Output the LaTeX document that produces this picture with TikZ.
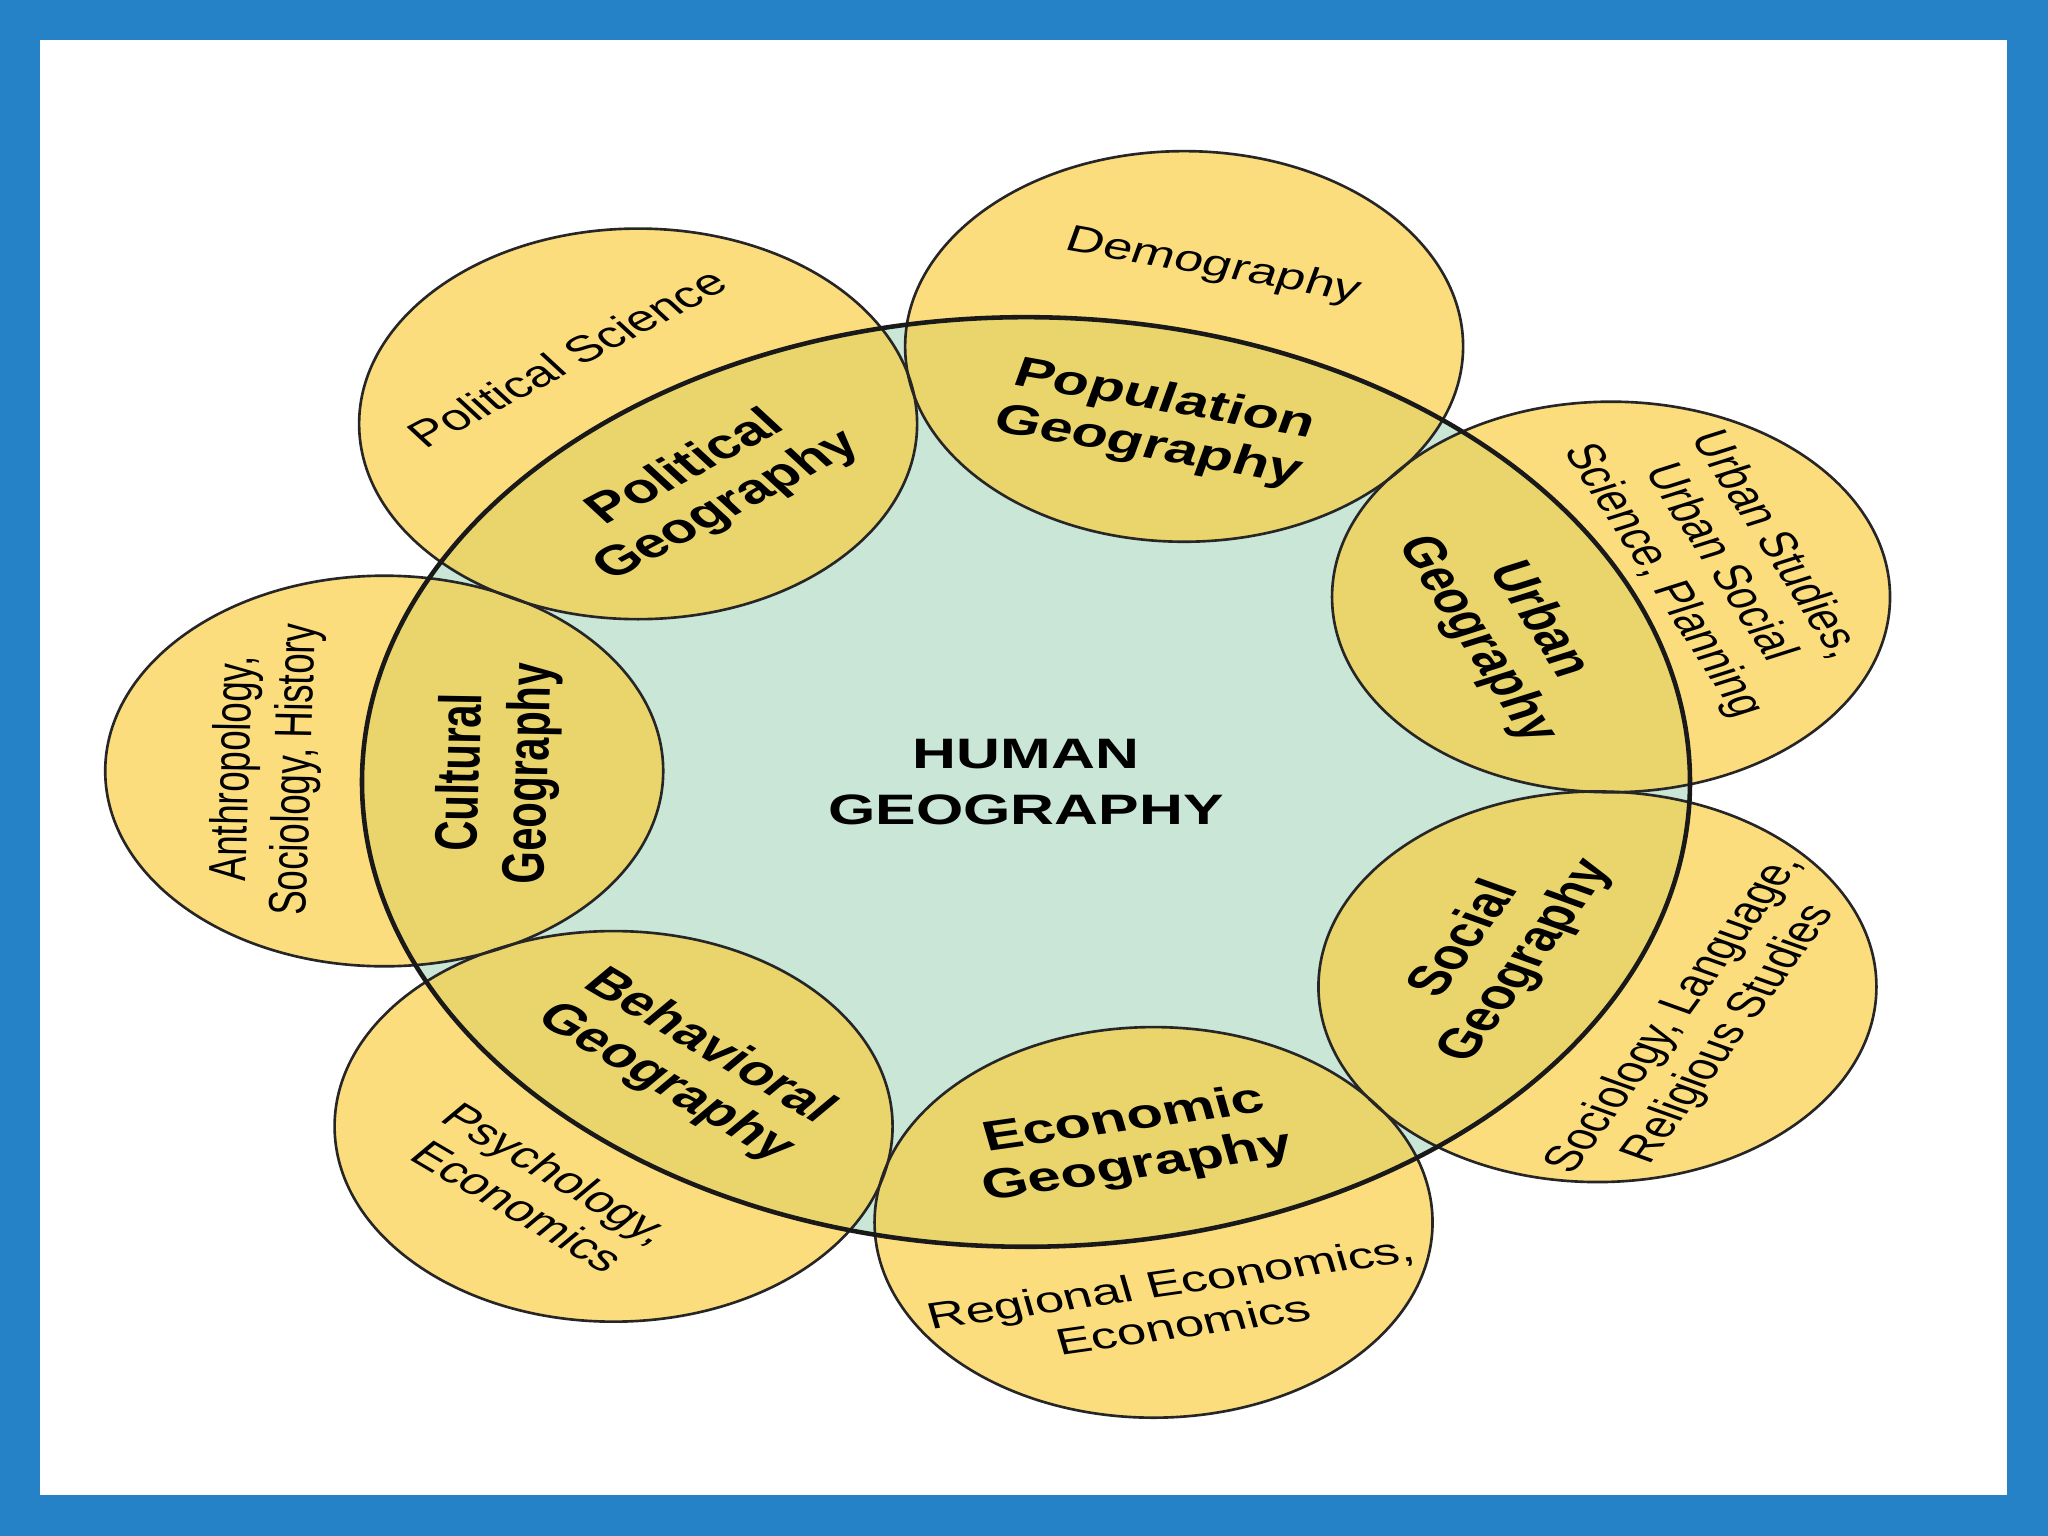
\documentclass[tikz,border=0pt]{standalone}
\usepackage{fontspec}
\setmainfont{Liberation Sans}
\definecolor{frameblue}{HTML}{2682C7}
\definecolor{outeryellow}{HTML}{FCDD7E}
\definecolor{lensyellow}{HTML}{EAD46C}
\definecolor{coregreen}{HTML}{C9E6D6}
\begin{document}
\begin{tikzpicture}[
  innertext/.style={font=\fontsize{17}{19.5}\selectfont\bfseries, align=center, transform shape, inner sep=0pt},
  outertext/.style={font=\fontsize{15}{17.5}\selectfont, align=center, transform shape, inner sep=0pt},
  coretext/.style={font=\fontsize{17.3}{23}\selectfont\bfseries, align=center, transform shape, inner sep=0pt},
  thinline/.style={line width=0.75pt, draw=black!85},
  thickline/.style={line width=1.3pt, draw=black!90},
]
\fill[frameblue] (0,0) rectangle (20.48,15.36);
\fill[white] (0.40,0.41) rectangle (20.07,14.96);
\useasboundingbox (0,0) rectangle (20.48,15.36);
\begin{scope}[shift={(10.26,7.54)}, yscale=0.70]
  \coordinate (hub) at (0,0);
  \fill[coregreen] (hub) circle (6.64);
  \foreach \a in {178.6,127.17,75.74,24.31,-27.11,-78.54,-129.97}
    \fill[outeryellow] (\a:6.42) circle (2.79);
  \begin{scope}
    \clip (hub) circle (6.64);
    \foreach \a in {178.6,127.17,75.74,24.31,-27.11,-78.54,-129.97}
      \fill[lensyellow] (\a:6.42) circle (2.79);
  \end{scope}
  \foreach \a in {178.6,127.17,75.74,24.31,-27.11,-78.54,-129.97}
    \draw[thinline] (\a:6.42) circle (2.79);
  \draw[thickline] (hub) circle (6.64);

  \node[coretext] (core) at (hub) {HUMAN\\GEOGRAPHY};

  % Cultural
  \node[innertext, rotate=88.6] (cultin) at (178.6:5.28) {Cultural\\Geography};
  \node[outertext, rotate=88.6] (cultout) at (178.6:7.6) {Anthropology,\\Sociology, History};
  % Political
  \node[innertext, rotate=37.17] (polin) at (127.17:5.28) {Political\\Geography};
  \node[outertext, rotate=37.17] (polout) at (127.17:7.6) {Political Science};
  % Population
  \node[innertext, rotate=-14.26] (popin) at (75.74:5.28) {Population\\Geography};
  \node[outertext, rotate=-14.26] (popout) at (75.74:7.6) {Demography};
  % Urban
  \node[innertext, rotate=-65.69] (urbin) at (24.31:5.28) {Urban\\Geography};
  \node[outertext, rotate=-65.69] (urbout) at (24.31:7.6) {Urban Studies,\\Urban Social\\Science, Planning};
  % Social
  \node[innertext, rotate=62.89] (socin) at (-27.11:5.28) {Social\\Geography};
  \node[outertext, rotate=62.89] (socout) at (-27.11:7.6) {Sociology, Language,\\Religious Studies};
  % Economic
  \node[innertext, rotate=11.46] (ecoin) at (-78.54:5.28) {Economic\\Geography};
  \node[outertext, rotate=11.46] (ecoout) at (-78.54:7.6) {Regional Economics,\\Economics};
  % Behavioral
  \node[innertext, rotate=-39.97] (behin) at (-129.97:5.28) {Behavioral\\Geography};
  \node[outertext, rotate=-39.97] (behout) at (-129.97:7.6) {Psychology,\\Economics};
\end{scope}
\end{tikzpicture}
\end{document}
